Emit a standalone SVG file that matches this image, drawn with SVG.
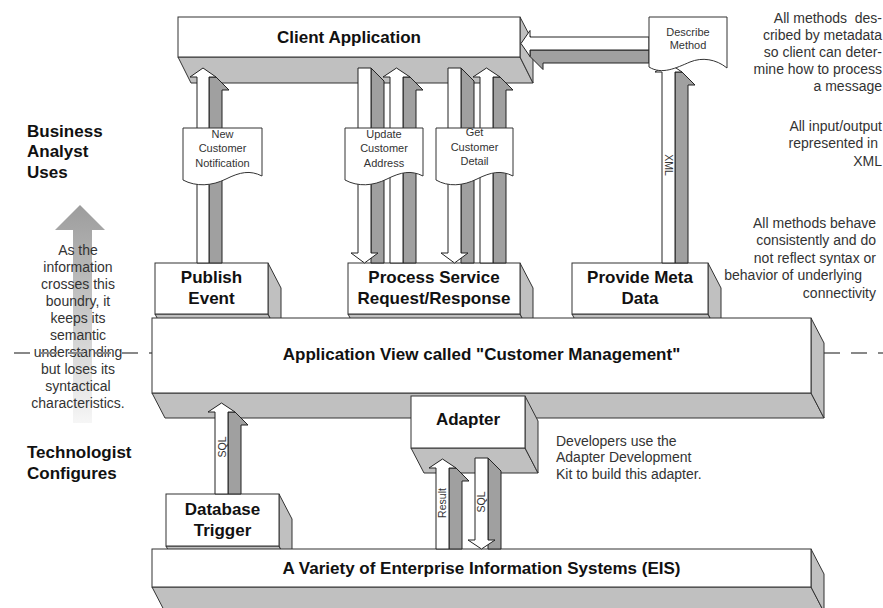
<svg xmlns="http://www.w3.org/2000/svg" width="883" height="608" viewBox="0 0 883 608">
<defs>
<linearGradient id="bigArrow" gradientUnits="userSpaceOnUse" x1="0" y1="205" x2="0" y2="423">
<stop offset="0" stop-color="#9c9c9c"/>
<stop offset="1" stop-color="#f6f6f6"/>
</linearGradient>
<style>
.front{fill:#fff;stroke:#333;stroke-width:1}
.face{fill:#c0c0c0;stroke:#333;stroke-width:1}
.ash{fill:#a0a0a0;stroke:#222;stroke-width:1}
.aw{fill:#fff;stroke:#222;stroke-width:1}
.lbl{font-family:"Liberation Sans",Arial,sans-serif;font-weight:bold;font-size:17px;fill:#111;text-anchor:middle}
.side{font-family:"Liberation Sans",Arial,sans-serif;font-weight:bold;font-size:17px;fill:#111}
.doc{fill:#fff;stroke:#333;stroke-width:1}
.dt{font-family:"Liberation Sans",Arial,sans-serif;font-size:11px;fill:#333;text-anchor:middle}
.rt{font-family:"Liberation Sans",Arial,sans-serif;font-size:10.5px;fill:#333;text-anchor:middle}
.note{font-family:"Liberation Sans",Arial,sans-serif;font-size:14px;fill:#333}
.dash{stroke:#888;stroke-width:2;stroke-dasharray:16 11;fill:none}
</style>
</defs>
<rect width="883" height="608" fill="#fff"/>

<!-- left side annotations -->
<polygon points="80,205 105,230 92,230 92,423 73,423 73,230 55,230" fill="url(#bigArrow)"/>
<g class="side">
<text x="27" y="137">Business</text>
<text x="27" y="157">Analyst</text>
<text x="27" y="178">Uses</text>
<text x="27" y="458">Technologist</text>
<text x="27" y="479">Configures</text>
</g>
<g class="note" text-anchor="middle">
<text x="78" y="255">As the</text>
<text x="78" y="272">information</text>
<text x="78" y="289">crosses this</text>
<text x="78" y="306">boundry, it</text>
<text x="78" y="323">keeps its</text>
<text x="78" y="340">semantic</text>
<text x="78" y="357">understanding</text>
<text x="78" y="374">but loses its</text>
<text x="78" y="391">syntactical</text>
<text x="78" y="408">characteristics.</text>
</g>
<line class="dash" x1="14" y1="353" x2="152" y2="353"/>
<line class="dash" x1="824" y1="353" x2="883" y2="353"/>

<!-- right side annotations -->
<g class="note" text-anchor="end">
<text x="882" y="23">All methods&#160; des-</text>
<text x="882" y="40">cribed by metadata</text>
<text x="882" y="57">so client can deter-</text>
<text x="882" y="74">mine how to process</text>
<text x="882" y="91">a message</text>
<text x="882" y="131">All input/output</text>
<text x="878" y="148">represented in</text>
<text x="882" y="166">XML</text>
<text x="876" y="228">All methods behave</text>
<text x="876" y="245">consistently and do</text>
<text x="876" y="263">not reflect syntax or</text>
<text x="862" y="280">behavior of underlying</text>
<text x="876" y="298">connectivity</text>
</g>
<g class="note">
<text x="556" y="446">Developers use the</text>
<text x="556" y="462">Adapter Development</text>
<text x="556" y="479">Kit to build this adapter.</text>
</g>

<!-- nodes -->
<g id="client-application">
<polygon class="face" points="178,57 520,57 533,83 191,83"/>
<polygon class="face" points="520,17 533,42 533,83 520,57"/>
<rect class="front" x="178" y="17" width="342" height="40"/>
<text class="lbl" x="349" y="43">Client Application</text>
</g>

<g id="publish-event">
<polygon class="face" points="155,314 268,314 281,339 168,339"/>
<polygon class="face" points="268,263 281,288 281,339 268,314"/>
<rect class="front" x="155" y="263" width="113" height="51"/>
<text class="lbl" x="211.5" y="283">Publish</text>
<text class="lbl" x="211.5" y="304">Event</text>
</g>

<g id="process-service">
<polygon class="face" points="348,314 520,314 533,339 361,339"/>
<polygon class="face" points="520,263 533,288 533,339 520,314"/>
<rect class="front" x="348" y="263" width="172" height="51"/>
<text class="lbl" x="434" y="283">Process Service</text>
<text class="lbl" x="434" y="304">Request/Response</text>
</g>

<g id="provide-meta-data">
<polygon class="face" points="572,314 708,314 721,339 585,339"/>
<polygon class="face" points="708,263 721,288 721,339 708,314"/>
<rect class="front" x="572" y="263" width="136" height="51"/>
<text class="lbl" x="640" y="283">Provide Meta</text>
<text class="lbl" x="640" y="304">Data</text>
</g>

<g id="application-view">
<polygon class="face" points="152,393 811,393 824,418 165,418"/>
<polygon class="face" points="811,318 824,343 824,418 811,393"/>
<rect class="front" x="152" y="318" width="659" height="75"/>
<text class="lbl" x="481.5" y="360">Application View called "Customer Management"</text>
</g>

<g id="adapter">
<polygon class="face" points="411,448 525,448 538,473 424,473"/>
<polygon class="face" points="525,396 538,421 538,473 525,448"/>
<rect class="front" x="411" y="396" width="114" height="52"/>
<text class="lbl" x="468" y="425">Adapter</text>
</g>

<g id="database-trigger">
<polygon class="face" points="166,546 279,546 292,571 179,571"/>
<polygon class="face" points="279,494 292,519 292,571 279,546"/>
<rect class="front" x="166" y="494" width="113" height="52"/>
<text class="lbl" x="222.5" y="515">Database</text>
<text class="lbl" x="222.5" y="536">Trigger</text>
</g>

<g id="eis">
<polygon class="face" points="152,587 811,587 824,612 165,612"/>
<polygon class="face" points="811,549 824,574 824,612 811,587"/>
<rect class="front" x="152" y="549" width="659" height="38"/>
<text class="lbl" x="481.5" y="574">A Variety of Enterprise Information Systems (EIS)</text>
</g>

<!-- connectors -->
<g id="connectors">
<!-- Describe Method -> Client Application -->
<polygon class="ash" points="530,50 530,56.5 543,69.5 543,63 649,63 649,50"/>
<polygon class="aw" points="649,37 530,37 530,30.5 521,43.5 530,56.5 530,50 649,50"/>
<!-- Publish Event -> Client -->
<polygon class="ash" points="209,77 216,77 229,90 222,90 222,263 209,263"/>
<polygon class="aw" points="197,263 197,77 190,77 203,68 216,77 209,77 209,263"/>
<!-- Client -> Process (Update) -->
<polygon class="ash" points="371,68 384,81 384,263 371,263"/>
<polygon class="aw" points="358,68 371,68 371,253 378,253 364.5,263 351,253 358,253"/>
<!-- Process -> Client -->
<polygon class="ash" points="403,77 410,77 423,90 416,90 416,263 403,263"/>
<polygon class="aw" points="390,263 390,77 383,77 396.5,68 410,77 403,77 403,263"/>
<!-- Client -> Process (Get) -->
<polygon class="ash" points="461,68 474,81 474,263 461,263"/>
<polygon class="aw" points="448,68 461,68 461,253 468,253 454.5,263 441,253 448,253"/>
<!-- Process -> Client -->
<polygon class="ash" points="493,77 500,77 513,90 506,90 506,263 493,263"/>
<polygon class="aw" points="480,263 480,77 473,77 486.5,68 500,77 493,77 493,263"/>
<!-- Provide Meta Data -> Describe Method (XML) -->
<polygon class="ash" points="675,72 682,72 695,85 688,85 688,263 675,263"/>
<polygon class="aw" points="662,263 662,72 655,72 668.5,63 682,72 675,72 675,263"/>
<text class="rt" transform="translate(665,165) rotate(90)">XML</text>
<!-- Database Trigger -> Application View (SQL) -->
<polygon class="ash" points="228,412 235,412 248,425 241,425 241,494 228,494"/>
<polygon class="aw" points="215,494 215,412 208,412 221.5,403 235,412 228,412 228,494"/>
<text class="rt" transform="translate(225.5,447) rotate(-90)">SQL</text>
<!-- EIS -> Adapter (Result) -->
<polygon class="ash" points="449,468 456,468 469,481 462,481 462,549 449,549"/>
<polygon class="aw" points="436,549 436,468 429,468 442.5,459 456,468 449,468 449,549"/>
<text class="rt" transform="translate(446,503) rotate(-90)">Result</text>
<!-- Adapter -> EIS (SQL) -->
<polygon class="ash" points="488,458 501,471 501,549 488,549"/>
<polygon class="aw" points="475,458 488,458 488,540 495,540 481.5,549 468,540 475,540"/>
<text class="rt" transform="translate(485,502) rotate(-90)">SQL</text>

<!-- message documents -->
<g id="doc-new-customer">
<path class="doc" d="M183,128 H262 V176 C250,170 240,172 226,179 C212,186 196,187 183,180 Z"/>
<text class="dt" x="222.5" y="138">New</text>
<text class="dt" x="222.5" y="152">Customer</text>
<text class="dt" x="222.5" y="167">Notification</text>
</g>
<g id="doc-update-address">
<path class="doc" d="M345,128 H423 V176 C411,170 401,172 387,179 C373,186 358,187 345,180 Z"/>
<text class="dt" x="384" y="138">Update</text>
<text class="dt" x="384" y="152">Customer</text>
<text class="dt" x="384" y="167">Address</text>
</g>
<g id="doc-get-detail">
<path class="doc" d="M436,128 H513 V176 C501,170 491,172 477,179 C463,186 448,187 436,180 Z"/>
<text class="dt" x="474.5" y="136">Get</text>
<text class="dt" x="474.5" y="151">Customer</text>
<text class="dt" x="474.5" y="165">Detail</text>
</g>
<g id="describe-method">
<path class="doc" d="M649,17 H727 V68 C716,59 702,57 690,62 C676,68 662,75 649,67 Z"/>
<text class="dt" x="688" y="36">Describe</text>
<text class="dt" x="688" y="49">Method</text>
</g>
</g>
</svg>
